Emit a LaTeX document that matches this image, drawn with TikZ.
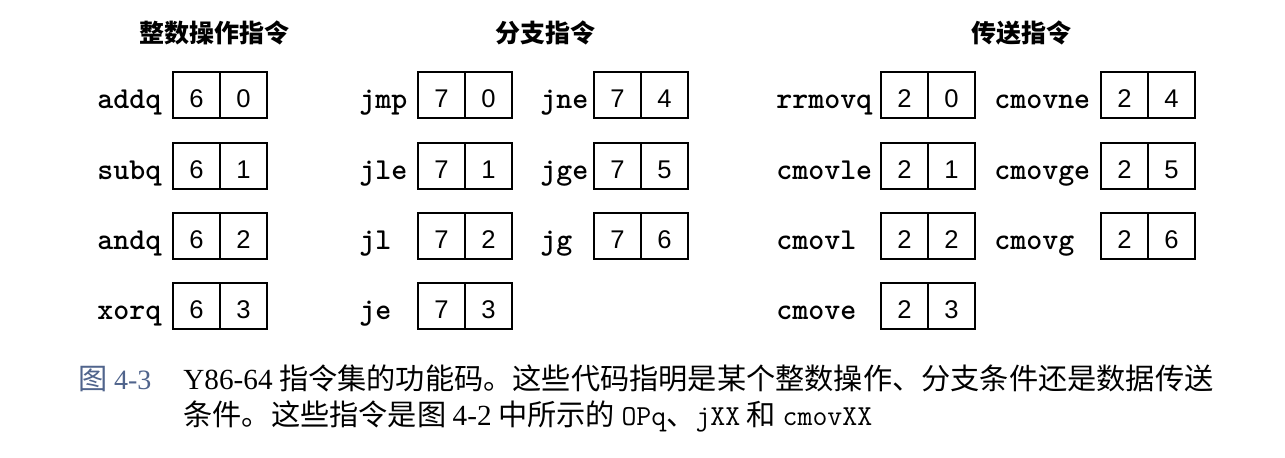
\documentclass[tikz,border=0pt]{standalone}
\usepackage{fontspec}
\setmainfont{Liberation Serif}
\newfontfamily\cjkfont{Noto Sans CJK SC}
\newfontfamily\digitfont{Liberation Sans}
\usetikzlibrary{positioning}
\definecolor{figblue}{RGB}{80,100,140}
\newcommand{\captt}[1]{{\ttfamily\fontsize{14.5}{14.5}\selectfont #1}}

\begin{document}
\begin{tikzpicture}[x=0.5pt,y=-0.5pt]
  \tikzstyle{cell}=[rectangle,draw=black,line width=1pt,outer sep=0pt,inner sep=0pt,
                    minimum width=23.5pt,minimum height=23pt,
                    text height=12pt,text depth=0pt,
                    font=\digitfont\fontsize{12.8}{12.8}\selectfont]
  \tikzstyle{mnem}=[anchor=base west,inner sep=0pt,
                    font=\ttfamily\bfseries\fontsize{15.2}{15.2}\selectfont]
  \tikzstyle{group title}=[font=\cjkfont\bfseries\fontsize{12.5}{12.5}\selectfont]
  \tikzstyle{caption}=[anchor=base west,inner sep=0pt,
                    font=\cjkfont\fontsize{14.6}{14.6}\selectfont]
  \useasboundingbox (0,0) rectangle (1285,457);

  % group headings
  \node [group title] (t-op)   at (214,33)  {整数操作指令};
  \node [group title] (t-jmp)  at (545,33)  {分支指令};
  \node [group title] (t-cmov) at (1021,33) {传送指令};

  % integer operations
  \foreach \mn/\fn/\y in {addq/0/95,subq/1/166,andq/2/236,xorq/3/306} {
    \node [mnem] (\mn) at (97,\y+13) {\mn};
    \node [cell] (\mn-code) at (196.5,\y) {6};
    \node [cell,right=0pt of \mn-code] (\mn-fn) {\fn};
  }

  % branches
  \foreach \mn/\fn/\y in {jmp/0/95,jle/1/166,jl/2/236,je/3/306} {
    \node [mnem] (\mn) at (359,\y+13) {\mn};
    \node [cell] (\mn-code) at (441.5,\y) {7};
    \node [cell,right=0pt of \mn-code] (\mn-fn) {\fn};
  }
  \foreach \mn/\fn/\y in {jne/4/95,jge/5/166,jg/6/236} {
    \node [mnem] (\mn) at (540,\y+13) {\mn};
    \node [cell] (\mn-code) at (617.5,\y) {7};
    \node [cell,right=0pt of \mn-code] (\mn-fn) {\fn};
  }

  % moves
  \foreach \mn/\fn/\y in {rrmovq/0/95,cmovle/1/166,cmovl/2/236,cmove/3/306} {
    \node [mnem] (\mn) at (776,\y+13) {\mn};
    \node [cell] (\mn-code) at (904.5,\y) {2};
    \node [cell,right=0pt of \mn-code] (\mn-fn) {\fn};
  }
  \foreach \mn/\fn/\y in {cmovne/4/95,cmovge/5/166,cmovg/6/236} {
    \node [mnem] (\mn) at (994,\y+13) {\mn};
    \node [cell] (\mn-code) at (1124.5,\y) {2};
    \node [cell,right=0pt of \mn-code] (\mn-fn) {\fn};
  }

  % caption
  \node [caption,text=figblue] (cap-no) at (78,389)
    {图 {\rmfamily\fontsize{14}{14}\selectfont 4-3}};
  \node [caption] (cap-1) at (183,389)
    {{\rmfamily Y86-64} 指令集的功能码。这些代码指明是某个整数操作、分支条件还是数据传送};
  \node [caption] (cap-2) at (183,425)
    {条件。这些指令是图 {\rmfamily 4-2} 中所示的 \captt{OPq}、\captt{jXX} 和 \captt{cmovXX}};
\end{tikzpicture}
\end{document}
